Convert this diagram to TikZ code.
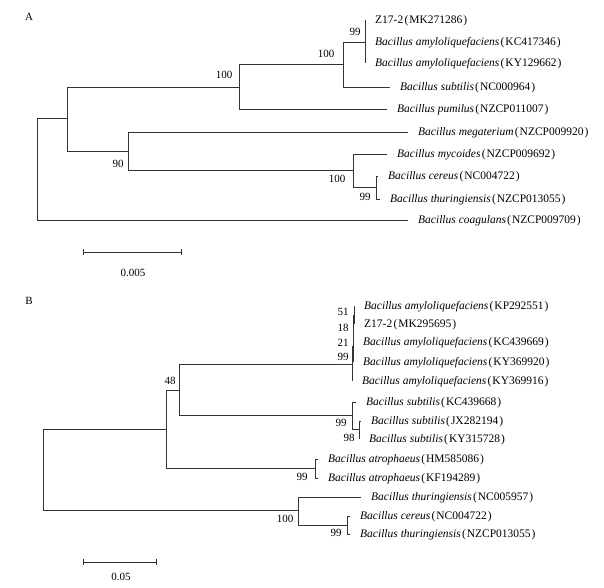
\documentclass[tikz,border=0pt]{standalone}
\usepackage{fontspec}
\setmainfont{Liberation Serif}
\usetikzlibrary{arrows.meta, positioning}

\newcommand{\accno}[1]{\kern1.2pt(\kern1pt#1\kern1pt)}
\newcommand{\taxon}[2]{\textit{#1}\accno{#2}}

\begin{document}
\begin{tikzpicture}[
  x=1pt, y=-1pt,
  every node/.style={font=\fontsize{11}{13}\selectfont},
  br/.style={black!80, line width=0.8pt},
  leaf/.style={inner sep=1pt, text height=9pt, text depth=2pt,
               font=\fontsize{11.5}{13}\selectfont},
  boot/.style={inner sep=0pt},
  bar/.style={black!80, line width=0.8pt, {Bar[width=6pt]}-{Bar[width=6pt]}}
]
\useasboundingbox (0,0) rectangle (604,587);

%% ================= panel A =================
\node (pA) at (29,17) {A};

%% inner nodes
\coordinate (rA) at (37,169);
\coordinate (a1) at (67,118);
\coordinate (a2) at (239,87);
\coordinate (a3) at (343,64);
\coordinate (a4) at (365,42);
\coordinate (a5) at (128,151);
\coordinate (a6) at (353,170);
\coordinate (a7) at (376,187);
%% tips
\coordinate (tA1)  at (365,20);
\coordinate (tA2)  at (365,42);
\coordinate (tA3)  at (365,63);
\coordinate (tA4)  at (390,87);
\coordinate (tA5)  at (387,109);
\coordinate (tA6)  at (408,132);
\coordinate (tA7)  at (387,154);
\coordinate (tA8)  at (378,176);
\coordinate (tA9)  at (380,199);
\coordinate (tA10) at (408,220);

%% branches
\foreach \a/\b in {rA/a1, rA/tA10, a1/a2, a1/a5, a2/a3, a2/tA5, a3/a4, a3/tA4,
                   a4/tA1, a4/tA2, a4/tA3, a5/tA6, a5/a6, a6/tA7, a6/a7,
                   a7/tA8, a7/tA9}
  \draw[br] (\a) |- (\b);

%% leaf names
\node[leaf, right=9pt of tA1]  (lA1)  {Z17-2\accno{MK271286}};
\node[leaf, right=9pt of tA2]  (lA2)  {\taxon{Bacillus amyloliquefaciens}{KC417346}};
\node[leaf, right=9pt of tA3]  (lA3)  {\taxon{Bacillus amyloliquefaciens}{KY129662}};
\node[leaf, right=9pt of tA4]  (lA4)  {\taxon{Bacillus subtilis}{NC000964}};
\node[leaf, right=9pt of tA5]  (lA5)  {\taxon{Bacillus pumilus}{NZCP011007}};
\node[leaf, right=9pt of tA6]  (lA6)  {\taxon{Bacillus megaterium}{NZCP009920}};
\node[leaf, right=9pt of tA7]  (lA7)  {\taxon{Bacillus mycoides}{NZCP009692}};
\node[leaf, right=9pt of tA8]  (lA8)  {\taxon{Bacillus cereus}{NC004722}};
\node[leaf, right=9pt of tA9]  (lA9)  {\taxon{Bacillus thuringiensis}{NZCP013055}};
\node[leaf, right=9pt of tA10] (lA10) {\taxon{Bacillus coagulans}{NZCP009709}};

%% bootstrap values
\node[boot] (bsA2) at (224,75)  {100};
\node[boot] (bsA3) at (326,54)  {100};
\node[boot] (bsA4) at (355,32)  {99};
\node[boot] (bsA5) at (118,164) {90};
\node[boot] (bsA6) at (337,179) {100};
\node[boot] (bsA7) at (365,197) {99};

%% scale
\coordinate (sA1) at (83,252);
\coordinate (sA2) at (182,252);
\draw[bar] (sA1) -- (sA2);
\node (scA) at (133,273) {0.005};

%% ================= panel B =================
\node (pB) at (29,301) {B};

%% inner nodes
\coordinate (rB)  at (43,469);
\coordinate (b1)  at (166,429);
\coordinate (b2)  at (179,390);
\coordinate (b3)  at (352,364);
\coordinate (b3a) at (353,346);
\coordinate (b3b) at (353,328);
\coordinate (b3c) at (354,315);
\coordinate (b5)  at (352,415);
\coordinate (b6)  at (359,429);
\coordinate (b7)  at (315,468);
\coordinate (b8)  at (298,510);
\coordinate (b9)  at (347,525);
%% tips
\coordinate (tB1)  at (354,306);
\coordinate (tB2)  at (354,324);
\coordinate (tB3)  at (353,342);
\coordinate (tB4)  at (353,362);
\coordinate (tB5)  at (352,381);
\coordinate (tB6)  at (356,402);
\coordinate (tB7)  at (361,421);
\coordinate (tB8)  at (359,439);
\coordinate (tB9)  at (318,459);
\coordinate (tB10) at (318,478);
\coordinate (tB11) at (361,497);
\coordinate (tB12) at (350,516);
\coordinate (tB13) at (350,534);

%% branches
\foreach \a/\b in {rB/b1, rB/b8, b1/b2, b1/b7, b2/b3, b2/b5, b3/b3a, b3/tB5,
                   b3a/b3b, b3a/tB4, b3b/b3c, b3b/tB3, b3c/tB1, b3c/tB2,
                   b5/tB6, b5/b6, b6/tB7, b6/tB8, b7/tB9, b7/tB10,
                   b8/tB11, b8/b9, b9/tB12, b9/tB13}
  \draw[br] (\a) |- (\b);

%% leaf names
\node[leaf, right=9pt of tB1]  (lB1)  {\taxon{Bacillus amyloliquefaciens}{KP292551}};
\node[leaf, right=9pt of tB2]  (lB2)  {Z17-2\accno{MK295695}};
\node[leaf, right=9pt of tB3]  (lB3)  {\taxon{Bacillus amyloliquefaciens}{KC439669}};
\node[leaf, right=9pt of tB4]  (lB4)  {\taxon{Bacillus amyloliquefaciens}{KY369920}};
\node[leaf, right=9pt of tB5]  (lB5)  {\taxon{Bacillus amyloliquefaciens}{KY369916}};
\node[leaf, right=9pt of tB6]  (lB6)  {\taxon{Bacillus subtilis}{KC439668}};
\node[leaf, right=9pt of tB7]  (lB7)  {\taxon{Bacillus subtilis}{JX282194}};
\node[leaf, right=9pt of tB8]  (lB8)  {\taxon{Bacillus subtilis}{KY315728}};
\node[leaf, right=9pt of tB9]  (lB9)  {\taxon{Bacillus atrophaeus}{HM585086}};
\node[leaf, right=9pt of tB10] (lB10) {\taxon{Bacillus atrophaeus}{KF194289}};
\node[leaf, right=9pt of tB11] (lB11) {\taxon{Bacillus thuringiensis}{NC005957}};
\node[leaf, right=9pt of tB12] (lB12) {\taxon{Bacillus cereus}{NC004722}};
\node[leaf, right=9pt of tB13] (lB13) {\taxon{Bacillus thuringiensis}{NZCP013055}};

%% bootstrap values
\node[boot] (bsB2)  at (170,381) {48};
\node[boot] (bsB3c) at (343,312) {51};
\node[boot] (bsB3b) at (343,328) {18};
\node[boot] (bsB3a) at (343,343) {21};
\node[boot] (bsB3)  at (343,357) {99};
\node[boot] (bsB5)  at (341,423) {99};
\node[boot] (bsB6)  at (349,438) {98};
\node[boot] (bsB7)  at (302,477) {99};
\node[boot] (bsB8)  at (285,519) {100};
\node[boot] (bsB9)  at (336,533) {99};

%% scale
\coordinate (sB1) at (83,562);
\coordinate (sB2) at (157,562);
\draw[bar] (sB1) -- (sB2);
\node (scB) at (121,577) {0.05};
\end{tikzpicture}
\end{document}
